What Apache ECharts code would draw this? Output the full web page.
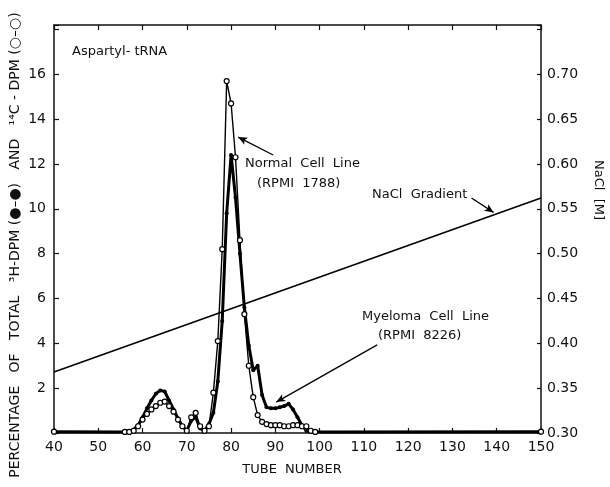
<!DOCTYPE html>
<html>
<head>
<meta charset="utf-8">
<script src="https://cdn.jsdelivr.net/npm/echarts@6/dist/echarts.min.js"></script>
<style>
  html, body { margin: 0; padding: 0; background: #fff; }
  #chart { width: 610px; height: 487px; }
</style>
</head>
<body>
<div id="chart"></div>
<script>
// tube numbers (x) shared by both count series
const tubes = [40, 56, 57, 58, 59, 60, 61, 62, 63, 64, 65, 66, 67, 68, 69, 70, 71, 72, 73, 74, 75,
  76, 77, 78, 79, 80, 81, 82, 83, 84, 85, 86, 87, 88, 89, 90, 91, 92, 93, 94, 95, 96, 97, 98, 99, 150]

// 3H-DPM, filled dots (Myeloma RPMI 8226)
const h3Values = [0.06, 0.05, 0.08, 0.15, 0.35, 0.7, 1.1, 1.45, 1.75, 1.9, 1.85, 1.45, 1.05, 0.65, 0.3, 0.1,
  0.55, 0.7, 0.2, 0.1, 0.4, 0.9, 2.3, 5.0, 9.8, 12.4, 10.5, 8.0, 5.6, 3.9, 2.8, 3.0, 1.7, 1.15, 1.1, 1.1,
  1.15, 1.2, 1.3, 1.05, 0.7, 0.35, 0.1, 0.05, 0.05, 0.06]

// 14C-DPM, open circles (Normal RPMI 1788)
const c14Values = [0.06, 0.05, 0.05, 0.1, 0.3, 0.6, 0.85, 1.05, 1.2, 1.35, 1.4, 1.2, 0.95, 0.6, 0.3, 0.1,
  0.7, 0.9, 0.3, 0.1, 0.3, 1.8, 4.1, 8.2, 15.7, 14.7, 12.3, 8.6, 5.3, 3.0, 1.6, 0.8, 0.5, 0.4, 0.35, 0.35,
  0.35, 0.3, 0.3, 0.35, 0.35, 0.3, 0.3, 0.1, 0.05, 0.06]

// NaCl gradient (right axis, M)
const naclTubes = [40, 150]
const naclValues = [0.368, 0.562]

const xTicks = { min: 40, max: 150, step: 10 }
const leftTicks = { min: 0, max: 18.2, step: 2 }
const rightTicks = { min: 0.30, max: 0.755, step: 0.05 }

const pairs = (xs, ys) => xs.map((x, i) => [x, ys[i]])

const font = 'DejaVu Sans'
const ink = '#111'

const chart = echarts.init(document.getElementById('chart'))

const option = {
  animation: false,
  backgroundColor: '#fff',
  grid: { left: 54, right: 69, top: 25, bottom: 54 },
  xAxis: [
    {
      type: 'value', min: xTicks.min, max: xTicks.max, interval: xTicks.step,
      axisLine: { lineStyle: { color: ink, width: 1.5 } },
      axisTick: { inside: true, length: 5, lineStyle: { color: ink, width: 1.2 } },
      axisLabel: { color: ink, fontFamily: font, fontSize: 14, margin: 7 },
      splitLine: { show: false }
    },
    {
      type: 'value', position: 'top', min: xTicks.min, max: xTicks.max, interval: xTicks.step,
      axisLine: { show: true, onZero: false, lineStyle: { color: ink, width: 1.5 } },
      axisTick: { inside: true, length: 5, lineStyle: { color: ink, width: 1.2 } },
      axisLabel: { show: false },
      splitLine: { show: false }
    }
  ],
  yAxis: [
    {
      type: 'value', min: leftTicks.min, max: leftTicks.max, interval: leftTicks.step,
      axisLine: { show: true, lineStyle: { color: ink, width: 1.5 } },
      axisTick: { show: true, inside: true, length: 5, lineStyle: { color: ink, width: 1.2 } },
      axisLabel: {
        color: ink, fontFamily: font, fontSize: 14, margin: 8,
        formatter: v => (v > 0 && v <= 16 ? String(v) : '')
      },
      splitLine: { show: false }
    },
    {
      type: 'value', position: 'right', min: rightTicks.min, max: rightTicks.max, interval: rightTicks.step,
      axisLine: { show: true, lineStyle: { color: ink, width: 1.5 } },
      axisTick: { show: true, inside: true, length: 4, lineStyle: { color: ink, width: 1.2 } },
      axisLabel: {
        color: ink, fontFamily: font, fontSize: 14, margin: 6,
        formatter: v => (v < 0.71 ? v.toFixed(2) : '')
      },
      splitLine: { show: false }
    }
  ],
  series: [
    {
      name: '3H-DPM',
      type: 'line',
      data: pairs(tubes, h3Values),
      symbol: 'circle',
      symbolSize: 4,
      showAllSymbol: true,
      itemStyle: { color: '#000' },
      lineStyle: { color: '#000', width: 3 },
      z: 3
    },
    {
      name: '14C-DPM',
      type: 'line',
      data: pairs(tubes, c14Values),
      symbol: 'circle',
      symbolSize: 5,
      showAllSymbol: true,
      itemStyle: { color: '#fff', borderColor: '#000', borderWidth: 1.2 },
      lineStyle: { color: '#000', width: 1.4 },
      z: 4,
      markLine: {
        silent: true,
        symbol: ['none', 'arrow'],
        symbolSize: [6, 9],
        label: { show: false },
        lineStyle: { color: '#000', width: 1.3, type: 'solid' },
        data: [
          [{ coord: [89.5, 12.4] }, { coord: [81.6, 13.2] }],
          [{ coord: [113, 3.93] }, { coord: [90.2, 1.38] }]
        ]
      }
    },
    {
      name: 'NaCl',
      type: 'line',
      yAxisIndex: 1,
      data: pairs(naclTubes, naclValues),
      symbol: 'none',
      lineStyle: { color: '#000', width: 1.5 },
      z: 2,
      markLine: {
        silent: true,
        symbol: ['none', 'arrow'],
        symbolSize: [6, 9],
        label: { show: false },
        lineStyle: { color: '#000', width: 1.3, type: 'solid' },
        data: [
          [{ coord: [134.3, 0.562] }, { coord: [139.3, 0.546] }]
        ]
      }
    }
  ],
  graphic: [
    {
      type: 'text', x: 15, y: 245, rotation: Math.PI / 2,
      style: {
        text: 'PERCENTAGE   OF   TOTAL   \u00B3H-DPM (\u25CF\u2013\u25CF)   AND   \u00B9\u2074C - DPM (\u25CB\u2013\u25CB)',
        font: '14px "DejaVu Sans"', fill: ink, textAlign: 'center', textVerticalAlign: 'middle'
      }
    },
    {
      type: 'text', x: 598, y: 190, rotation: -Math.PI / 2,
      style: {
        text: 'NaCl  [M]', font: '13px "DejaVu Sans"', fill: ink,
        textAlign: 'center', textVerticalAlign: 'middle'
      }
    },
    {
      type: 'text', x: 292, y: 470,
      style: {
        text: 'TUBE  NUMBER', font: '13px "DejaVu Sans"', fill: ink,
        textAlign: 'center', textVerticalAlign: 'middle'
      }
    },
    {
      type: 'text', x: 72, y: 52,
      style: { text: 'Aspartyl- tRNA', font: '13px "DejaVu Sans"', fill: ink, textVerticalAlign: 'middle' }
    },
    {
      type: 'text', x: 245, y: 164,
      style: { text: 'Normal  Cell  Line', font: '13px "DejaVu Sans"', fill: ink, textVerticalAlign: 'middle' }
    },
    {
      type: 'text', x: 257, y: 184,
      style: { text: '(RPMI  1788)', font: '13px "DejaVu Sans"', fill: ink, textVerticalAlign: 'middle' }
    },
    {
      type: 'text', x: 372, y: 195,
      style: { text: 'NaCl  Gradient', font: '13px "DejaVu Sans"', fill: ink, textVerticalAlign: 'middle' }
    },
    {
      type: 'text', x: 362, y: 317,
      style: { text: 'Myeloma  Cell  Line', font: '13px "DejaVu Sans"', fill: ink, textVerticalAlign: 'middle' }
    },
    {
      type: 'text', x: 378, y: 336,
      style: { text: '(RPMI  8226)', font: '13px "DejaVu Sans"', fill: ink, textVerticalAlign: 'middle' }
    }
  ]
}

chart.setOption(option)
</script>
</body>
</html>
